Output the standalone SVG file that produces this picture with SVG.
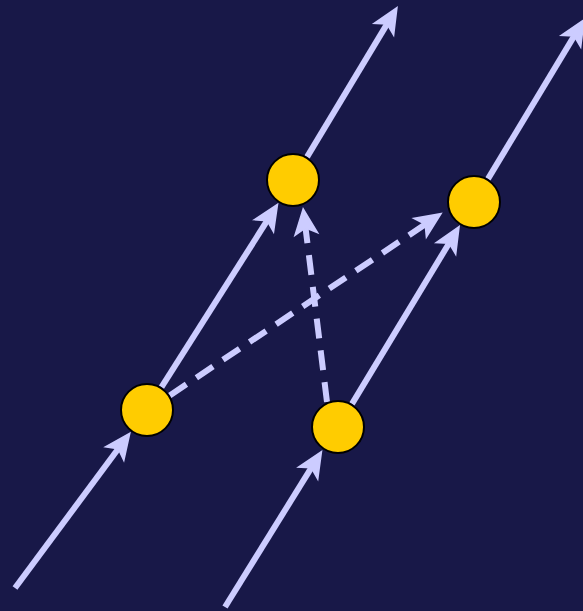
<svg xmlns="http://www.w3.org/2000/svg" width="583" height="611" viewBox="0 0 583 611">
<style>
.e{stroke:#ccccff;stroke-width:6;fill:none;marker-end:url(#ah)}
.d{stroke-dasharray:20,12}
.n{fill:#ffcc00;stroke:#000;stroke-width:2}
</style>
<defs>
<marker id="ah" markerUnits="userSpaceOnUse" viewBox="-12 -15 34 30" markerWidth="34" markerHeight="30" refX="0" refY="0" orient="auto">
<path d="M20,0 L-9,-13 L-2,0 L-9,13 Z" fill="#ccccff"/>
</marker>
</defs>
<rect width="583" height="611" fill="#181848"/>
<g id="connectors">
<line class="e" x1="15" y1="588" x2="119" y2="447.8"/>
<line class="e" x1="161.5" y1="387.2" x2="267.8" y2="219.7"/>
<line class="e" x1="307.1" y1="156.9" x2="387.6" y2="23.1"/>
<line class="e" x1="225" y1="607" x2="311.9" y2="466.9"/>
<line class="e" x1="352" y1="403.9" x2="449.7" y2="242.2"/>
<line class="e" x1="488" y1="178.9" x2="574.7" y2="35.1"/>
<line class="e d" x1="169.8" y1="395.5" x2="426.1" y2="223.7"/>
<line class="e d" x1="327" y1="402" x2="305.4" y2="226.8"/>
</g>
<g id="n1"><circle class="n" cx="147" cy="410" r="26"/></g>
<g id="n2"><circle class="n" cx="293" cy="180" r="26"/></g>
<g id="n3"><circle class="n" cx="474" cy="202" r="26"/></g>
<g id="n4"><circle class="n" cx="338" cy="427" r="26"/></g>
</svg>
